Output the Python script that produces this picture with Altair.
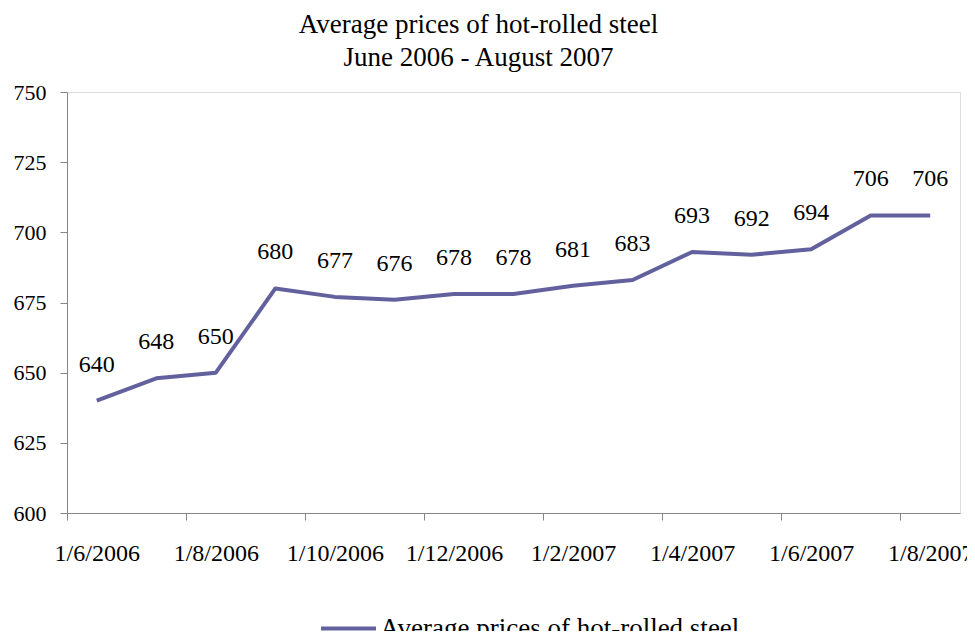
import altair as alt
import pandas as pd

# ---- data ----
months = ["Jun 2006", "Jul 2006", "Aug 2006", "Sep 2006", "Oct 2006", "Nov 2006",
          "Dec 2006", "Jan 2007", "Feb 2007", "Mar 2007", "Apr 2007", "May 2007",
          "Jun 2007", "Jul 2007", "Aug 2007"]
prices = [640, 648, 650, 680, 677, 676, 678, 678, 681, 683, 693, 692, 694, 706, 706]
tick_labels = ["1/6/2006", "1/8/2006", "1/10/2006", "1/12/2006",
               "1/2/2007", "1/4/2007", "1/6/2007", "1/8/2007"]
y_ticks = [600, 625, 650, 675, 700, 725, 750]
series_name = "Average prices of hot-rolled steel"
title_lines = ["Average prices of hot-rolled steel", "June 2006 - August 2007"]

FONT = "Liberation Serif"
LINE_COLOR = "#62619E"
AXIS_COLOR = "#868686"

W, H = 893, 421
n = len(prices)

df = pd.DataFrame({
    "idx": list(range(n)),
    "month": months,
    "price": prices,
    "series": [series_name] * n,
})

# tick marks sit on category boundaries every second category; labels at category centres
tick_vals = [2 * i - 0.5 for i in range(len(tick_labels))]
label_array = "[" + ",".join("'" + t + "'" for t in tick_labels) + "]"
label_expr = label_array + "[round((datum.value + 0.5) / 2)]"

x_scale = alt.Scale(domain=[-0.5, n - 0.5], nice=False, zero=False)
y_scale = alt.Scale(domain=[600, 750], nice=False, zero=False)

x_axis = alt.Axis(
    values=tick_vals, labelExpr=label_expr, labelOffset=W / n / 2,
    title=None, grid=False, domainColor=AXIS_COLOR, tickColor=AXIS_COLOR,
    tickSize=7, labelPadding=21, labelFont=FONT, labelFontSize=24,
    labelColor="black", labelOverlap=False, labelBound=False, labelFlush=False,
)
y_axis = alt.Axis(
    values=y_ticks, title=None, grid=False, domainColor=AXIS_COLOR,
    tickColor=AXIS_COLOR, tickSize=7, labelPadding=14, labelFont=FONT,
    labelFontSize=22, labelColor="black", labelBaseline="middle",
)

base = alt.Chart(df)

line = base.mark_line(strokeWidth=4, strokeJoin="round").encode(
    x=alt.X("idx:Q", scale=x_scale, axis=x_axis),
    y=alt.Y("price:Q", scale=y_scale, axis=y_axis),
    color=alt.Color(
        "series:N",
        scale=alt.Scale(range=[LINE_COLOR]),
        legend=alt.Legend(
            title=None, orient="none", legendX=252, legendY=507,
            symbolType="stroke", symbolSize=3025, symbolStrokeWidth=4,
            labelFont=FONT, labelFontSize=27, labelColor="black",
            labelOffset=2, padding=0, labelLimit=600,
        ),
    ),
)

labels = base.mark_text(
    dy=-29, baseline="alphabetic", align="center", font=FONT, fontSize=24, color="black"
).encode(
    x=alt.X("idx:Q", scale=x_scale),
    y=alt.Y("price:Q", scale=y_scale),
    text=alt.Text("price:Q"),
)

chart = (line + labels).properties(
    width=W,
    height=H,
    autosize=alt.AutoSizeParams(type="none"),
    padding={"left": 59, "top": 84, "right": 7, "bottom": 118},
    title=alt.TitleParams(
        text=title_lines, font=FONT, fontSize=27, fontWeight="normal",
        color="black", anchor="middle", offset=9, dx=-35, lineHeight=33,
    ),
).configure_view(stroke=None).configure(background="white")

chart.save("out.html", embed_options={"renderer": "svg", "actions": False})
